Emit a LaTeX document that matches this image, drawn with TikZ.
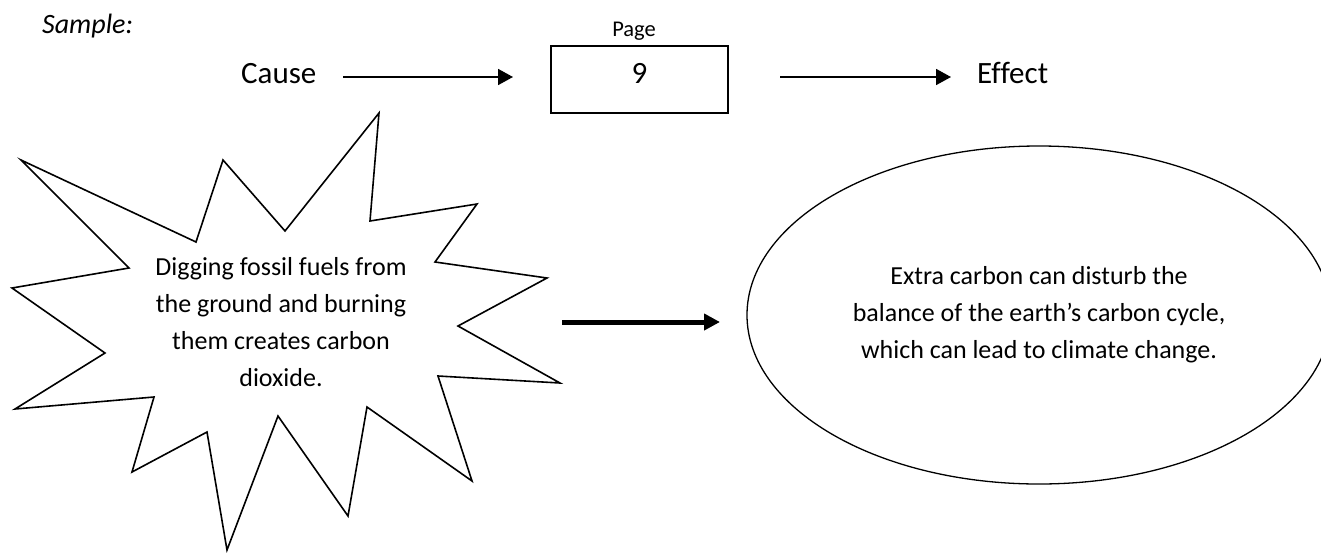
\documentclass[tikz,border=0pt]{standalone}
\usepackage{fontspec}
\setmainfont{Carlito}[Ligatures=NoCommon]
\usetikzlibrary{arrows.meta,shapes.geometric}
\begin{document}
\begin{tikzpicture}[x=1pt,y=-1pt,
  bigtxt/.style={font=\fontsize{31}{37}\selectfont, inner sep=0pt},
  midtxt/.style={font=\fontsize{26}{37}\selectfont, inner sep=0pt, align=center},
  thinarrow/.style={line width=1.8pt, -{Triangle[length=15pt,width=16pt]}},
  thickarrow/.style={line width=5pt, -{Triangle[length=16pt,width=16pt]}},
  pagebox/.style={draw, line width=2.4pt, rectangle, minimum width=177pt, minimum height=67pt, inner sep=0pt,
     font=\fontsize{31}{37}\selectfont, text height=19.6pt, text depth=12.6pt},
  starline/.style={draw, line width=1.6pt, line join=miter},
  effectell/.style={draw, ellipse, line width=1.3pt, minimum width=584pt, minimum height=338pt, inner sep=0pt}
]
\useasboundingbox (0,0) rectangle (1321,552);
\clip (0,0) rectangle (1321,552);

% heading row
\node[anchor=base west, inner sep=0pt, font=\fontsize{28}{34}\selectfont\itshape] (sample) at (42,33) {Sample:};
\node[anchor=base, inner sep=0pt, font=\fontsize{22.5}{26}\selectfont] (pagelbl) at (634,36) {Page};
\node[pagebox] (box) at (639.5,79.5) {9};
\node[bigtxt, anchor=base west] (cause) at (241,83) {Cause};
\node[bigtxt, anchor=base west] (effect) at (977,83) {Effect};

\coordinate (c1) at (343,77);
\coordinate (c2) at (513,77);
\coordinate (e1) at (780,77);
\coordinate (e2) at (951,77);
\draw[thinarrow] (c1) -- (c2);
\draw[thinarrow] (e1) -- (e2);

% star (cause)
\draw[starline] (379,113) -- (370,221) -- (477,204) -- (435,262) -- (547,278) -- (458,326)
  -- (560,383) -- (438,376) -- (472,481) -- (367,407) -- (348,516) -- (278,416)
  -- (227,550) -- (207,432) -- (132,472) -- (154,397) -- (15,409) -- (105,353)
  -- (12,288) -- (129,268) -- (21,160) -- (196,242) -- (223,160) -- (285,231) -- cycle;
\node[midtxt] (causetxt) at (281,322) {Digging fossil fuels from\\the ground and burning\\them creates carbon\\dioxide.};

% ellipse (effect)
\node[effectell, midtxt] (ell) at (1039,315) {Extra carbon can disturb the\\balance of the earth’s carbon cycle,\\which can lead to climate change.};

\coordinate (a1) at (562,322);
\coordinate (a2) at (720,322);
\draw[thickarrow] (a1) -- (a2);
\end{tikzpicture}
\end{document}
